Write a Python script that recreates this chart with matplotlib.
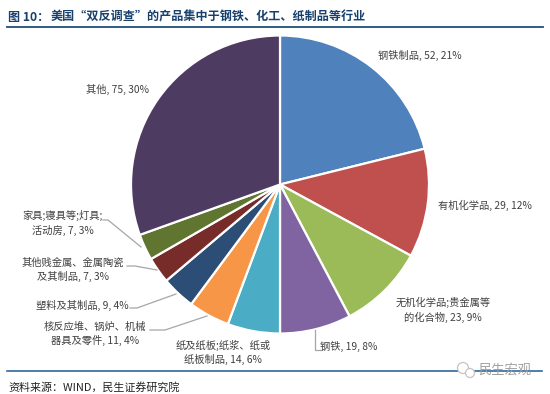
import matplotlib
matplotlib.use('Agg')
from matplotlib import pyplot as plt
from matplotlib.patches import Circle

plt.rcParams['font.family'] = ['Noto Sans CJK SC', 'DejaVu Sans']

'''Chart values'''
products = ['钢铁制品', '有机化学品', '无机化学品;贵金属等的化合物', '钢铁', '纸及纸板;纸浆、纸或纸板制品',
            '核反应堆、锅炉、机械器具及零件', '塑料及其制品', '其他贱金属、金属陶瓷及其制品', '家具;寝具等;灯具;活动房', '其他']
counts = [52, 29, 23, 19, 14, 11, 9, 7, 7, 75]
shares = [21, 12, 9, 8, 6, 4, 4, 3, 3, 30]
colors = ['#4f81bd', '#c0504d', '#9bbb59', '#8064a2', '#4bacc6',
          '#f79646', '#2c4d75', '#772c2a', '#5f7530', '#4d3b62']
title_no = '图 10\uff1a'
title = '美国“双反调查”的产品集中于钢铁、化工、纸制品等行业'
source = '资料来源\uff1aWIND\uff0c民生证券研究院'
watermark = '民生宏观'

# label text lines, x and y in pixels, leader line points in pixels
label_lines = [
    (['钢铁制品, 52, 21%'], 420, 55, None),
    (['有机化学品, 29, 12%'], 485, 205, None),
    (['无机化学品;贵金属等', '的化合物, 23, 9%'], 443, 310, None),
    (['钢铁, 19, 8%'], 349, 346, [(315, 330), (315, 350), (321, 350)]),
    (['纸及纸板;纸浆、纸或', '纸板制品, 14, 6%'], 223, 352.5, None),
    (['核反应堆、锅炉、机械', '器具及零件, 11, 4%'], 95, 334, [(207, 316), (165, 330), (150, 330)]),
    (['塑料及其制品, 9, 4%'], 82, 305, [(176, 294), (137, 308), (130, 308)]),
    (['其他贱金属、金属陶瓷', '及其制品, 7, 3%'], 73, 270, [(157, 270), (135, 266), (127, 266)]),
    (['家具;寝具等;灯具;', '活动房, 7, 3%'], 63, 223, [(141, 247), (108, 220), (103, 220)]),
    (['其他, 75, 30%'], 118, 89, None),
]

W, H = 550, 394
fig = plt.figure(figsize=(W / 100, H / 100), dpi=100)
ax = fig.add_axes([0, 0, 1, 1])

ax.pie(counts, colors=colors, startangle=90, counterclock=False, center=(280, H - 184.5), radius=149,
       frame=True, wedgeprops={'edgecolor': 'white', 'linewidth': 1.6})
ax.set_xlim(0, W)
ax.set_ylim(0, H)
ax.set_aspect('equal')
ax.axis('off')

for lines, x, y, leader in label_lines:
    ax.text(x, H - y, '\n'.join(lines), ha='center', va='center', fontsize=7.4,
            color='#404040', linespacing=1.35)
    if leader:
        ax.plot([p[0] for p in leader], [H - p[1] for p in leader], color='#a6a6a6', lw=0.9)

# title and rules
ax.text(8, H - 17, title_no, ha='left', va='center', fontsize=8.7, fontweight='bold', color='#17406d')
ax.text(51, H - 17, title, ha='left', va='center', fontsize=8.7, fontweight='bold', color='#17406d')
ax.plot([7, 543], [H - 26.5, H - 26.5], color='#1f4e79', lw=1.3)
ax.plot([7, 542], [H - 371, H - 371], color='#2f6a9e', lw=1.2)
ax.text(8, H - 387, source, ha='left', va='center', fontsize=7.9, color='#222222')

# watermark sits on the lower rule
ax.add_patch(Circle((463, H - 368), 5.5, fc='white', ec='#c4c4c4', lw=0.9, zorder=4))
ax.add_patch(Circle((470, H - 373), 4.5, fc='white', ec='#c4c4c4', lw=0.9, zorder=4))
ax.text(505, H - 370, watermark, ha='center', va='center', fontsize=9.5, color='#a0a0a0', zorder=5)

fig.savefig('out.png', dpi=100)
